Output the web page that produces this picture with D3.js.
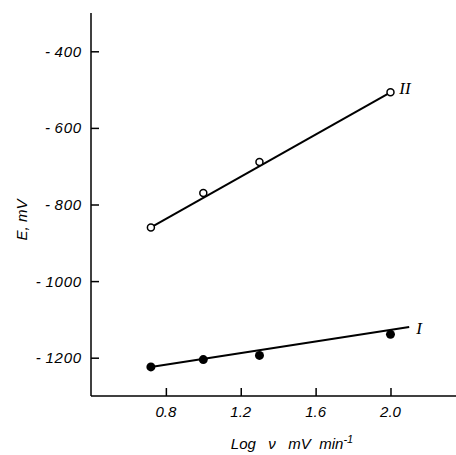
<!DOCTYPE html>
<html>
<head>
<meta charset="utf-8">
<script src="https://cdn.jsdelivr.net/npm/d3@7"></script>
<style>
  body { margin: 0; background: #fff; }
  text { font-family: "Liberation Sans", Arial, sans-serif; font-style: italic; }
</style>
</head>
<body>
<div id="chart"></div>
<script>
// chart size
var svgWidth = 456;
var svgHeight = 455;

// data
var logRate = [0.72, 1.0, 1.3, 2.0];
var seriesI = [-1224, -1205, -1194, -1139];
var seriesII = [-860, -770, -689, -507];
// fitted lines (end points)
var fitIx = [0.72, 2.10];
var fitIy = [-1224, -1120];
var fitIIx = [0.72, 2.0];
var fitIIy = [-860, -507];

var xTicks = [0.8, 1.2, 1.6, 2.0];
var yTicks = [-400, -600, -800, -1000, -1200];

var svg = d3.select("#chart")
  .append("svg")
  .attr("width", svgWidth)
  .attr("height", svgHeight);

var x = d3.scaleLinear().domain([0.4, 2.35]).range([91, 456]);
var y = d3.scaleLinear().domain([-1300, -300]).range([396, 13]);

// axes
var xAxis = d3.axisTop(x).tickValues(xTicks).tickSize(8).tickFormat("");
svg.append("g")
  .attr("transform", "translate(0,396)")
  .call(xAxis)
  .call(g => g.select(".domain").attr("stroke-width", 1.5).attr("d", "M91,0H456"));

var yAxis = d3.axisRight(y).tickValues(yTicks).tickSize(8).tickFormat("");
svg.append("g")
  .attr("transform", "translate(91,0)")
  .call(yAxis)
  .call(g => g.select(".domain").attr("stroke-width", 1.5).attr("d", "M0,13V396"));

svg.selectAll(".tick line").attr("stroke-width", 1.5);

// tick labels
svg.append("g").selectAll("text")
  .data(xTicks)
  .enter()
  .append("text")
  .attr("x", d => x(d))
  .attr("y", 417)
  .attr("text-anchor", "middle")
  .attr("font-size", 15)
  .text(d => d3.format(".1f")(d));

svg.append("g").selectAll("text")
  .data(yTicks)
  .enter()
  .append("text")
  .attr("x", 82)
  .attr("y", d => y(d))
  .attr("dy", "0.36em")
  .attr("text-anchor", "end")
  .attr("font-size", 15)
  .attr("letter-spacing", 0.8)
  .text(d => "-\u2009" + Math.abs(d));

// axis titles
var xTitle = svg.append("text")
  .attr("x", 292)
  .attr("y", 449)
  .attr("text-anchor", "middle")
  .attr("font-size", 15)
  .attr("xml:space", "preserve");
xTitle.append("tspan").text("Log   \u03bd   mV  min");
xTitle.append("tspan").attr("dy", -6).attr("font-size", 11).text("-1");

svg.append("text")
  .attr("transform", "translate(27,220) rotate(-90)")
  .attr("text-anchor", "middle")
  .attr("font-size", 15)
  .text("E, mV");

// fitted lines
var line = d3.line().x(d => x(d[0])).y(d => y(d[1]));
svg.append("path")
  .attr("d", line(d3.zip(fitIx, fitIy)))
  .attr("fill", "none")
  .attr("stroke", "#000")
  .attr("stroke-width", 2);
svg.append("path")
  .attr("d", line(d3.zip(fitIIx, fitIIy)))
  .attr("fill", "none")
  .attr("stroke", "#000")
  .attr("stroke-width", 2);

// points
svg.append("g").selectAll("circle")
  .data(d3.zip(logRate, seriesI))
  .enter()
  .append("circle")
  .attr("cx", d => x(d[0]))
  .attr("cy", d => y(d[1]))
  .attr("r", 4.5)
  .attr("fill", "#000");

svg.append("g").selectAll("circle")
  .data(d3.zip(logRate, seriesII))
  .enter()
  .append("circle")
  .attr("cx", d => x(d[0]))
  .attr("cy", d => y(d[1]))
  .attr("r", 3.5)
  .attr("fill", "#fff")
  .attr("stroke", "#000")
  .attr("stroke-width", 1.5);

// series labels
svg.append("text")
  .attr("x", 419)
  .attr("y", 334)
  .attr("text-anchor", "middle")
  .style("font-family", "'Liberation Serif', serif")
  .attr("font-size", 17)
  .text("I");

svg.append("text")
  .attr("x", 405)
  .attr("y", 94)
  .attr("text-anchor", "middle")
  .style("font-family", "'Liberation Serif', serif")
  .attr("font-size", 17)
  .text("II");
</script>
</body>
</html>
